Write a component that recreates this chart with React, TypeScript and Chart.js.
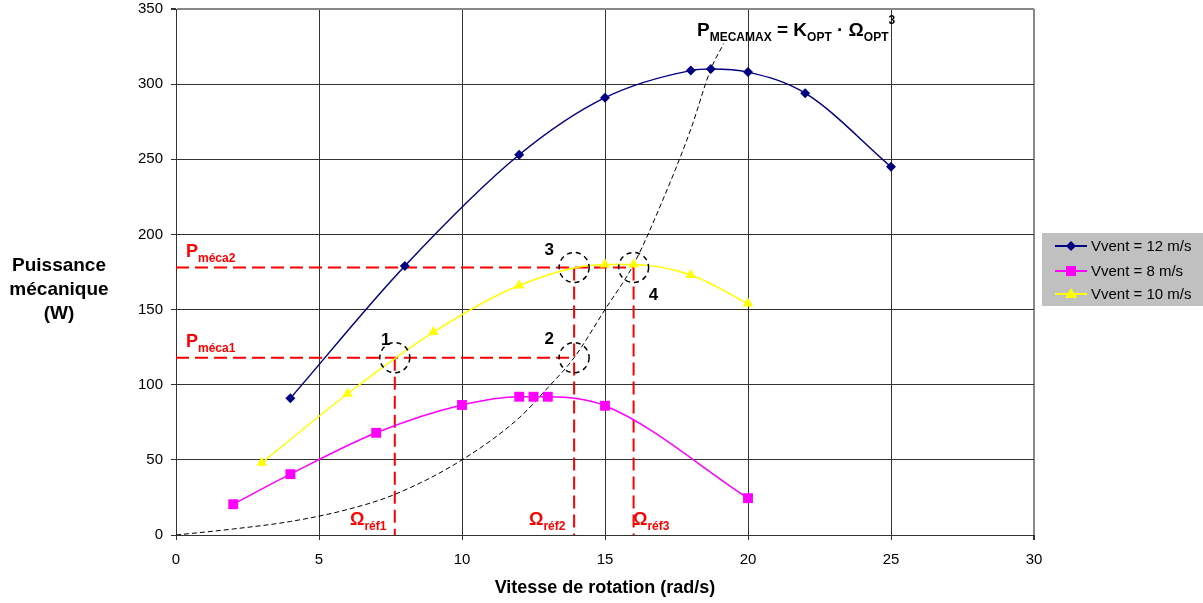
import React, { useEffect, useRef } from 'react';
import { Chart, registerables } from 'chart.js';

Chart.register(...registerables);

const FONT = '"Liberation Sans", Arial, Helvetica, sans-serif';

// Vvent = 12 m/s
const speed12X = [4, 8, 12, 15, 18, 18.7, 20, 22, 25];
const power12Y = [91, 179, 253, 291, 309, 310, 308, 294, 245];
// Vvent = 8 m/s
const speed8X = [2, 4, 7, 10, 12, 12.5, 13, 15, 20];
const power8Y = [20.5, 40.5, 68, 86.5, 92, 92, 92, 86, 24.5];
// Vvent = 10 m/s
const speed10X = [3, 6, 9, 12, 15, 16, 18, 20];
const power10Y = [48, 94, 135, 166, 180, 180, 173, 154];
// P_MECAMAX = K_OPT * Omega_OPT^3
const optX = [0, 2, 4, 6, 7.65, 10, 12, 13, 13.92, 15, 16, 17, 18, 18.7, 19.15];
const optY = [0, 4, 9, 17, 27, 50, 78, 98, 118, 150, 180, 222, 270, 310, 327];
// operating points
const pMeca = [118, 178];
const omegaRef = [7.65, 13.92, 16.0];

const legendLabels = ['Vvent = 12 m/s', 'Vvent = 8 m/s', 'Vvent = 10 m/s'];
const xTitle = 'Vitesse de rotation (rad/s)';
const yTitle = ['Puissance', 'mécanique', '(W)'];

const BLUE = '#000080';
const PINK = '#ff00ff';
const YELLOW = '#ffff00';
const RED = '#ff0000';

const pts = (xs: number[], ys: number[]) => xs.map((x, i) => ({ x, y: ys[i] }));

function rich(ctx: CanvasRenderingContext2D, x: number, y: number, parts: [string, number, number][]) {
  let cx = x;
  for (const [t, size, dy] of parts) {
    ctx.font = `bold ${size}px ${FONT}`;
    ctx.fillText(t, cx, y + dy);
    cx += ctx.measureText(t).width;
  }
}

function marker(ctx: CanvasRenderingContext2D, kind: string, x: number, y: number, color: string) {
  ctx.save();
  ctx.fillStyle = color;
  ctx.beginPath();
  if (kind === 'diamond') {
    ctx.moveTo(x, y - 5); ctx.lineTo(x + 5, y); ctx.lineTo(x, y + 5); ctx.lineTo(x - 5, y);
  } else if (kind === 'square') {
    ctx.rect(x - 5, y - 5, 10, 10);
  } else {
    ctx.moveTo(x, y - 6); ctx.lineTo(x + 6, y + 4); ctx.lineTo(x - 6, y + 4);
  }
  ctx.closePath();
  ctx.fill();
  ctx.restore();
}

const annotPlugin = {
  id: 'annot',
  afterDatasetsDraw(chart: any) {
    const { ctx } = chart;
    const xs = chart.scales.x;
    const ys = chart.scales.y;
    const circles: [number, number, string, number, number][] = [
      [omegaRef[0], pMeca[0], '1', -9, -17],
      [omegaRef[1], pMeca[0], '2', -25, -18],
      [omegaRef[1], pMeca[1], '3', -25, -17],
      [omegaRef[2], pMeca[1], '4', 20, 28],
    ];
    ctx.save();
    for (const [cx, cy, lab, dx, dy] of circles) {
      const px = xs.getPixelForValue(cx);
      const py = ys.getPixelForValue(cy);
      ctx.beginPath();
      ctx.setLineDash([5, 4]);
      ctx.strokeStyle = '#000';
      ctx.lineWidth = 1.5;
      ctx.arc(px, py, 15, 0, Math.PI * 2);
      ctx.stroke();
      ctx.setLineDash([]);
      ctx.fillStyle = '#000';
      ctx.font = `bold 17px ${FONT}`;
      ctx.textAlign = 'center';
      ctx.textBaseline = 'middle';
      ctx.fillText(lab, px + dx, py + dy);
    }
    ctx.textAlign = 'left';
    ctx.textBaseline = 'alphabetic';
    ctx.fillStyle = RED;
    rich(ctx, 186, 257, [['P', 18, 0], ['méca2', 12, 5]]);
    rich(ctx, 186, 347, [['P', 18, 0], ['méca1', 12, 5]]);
    rich(ctx, 350, 525, [['Ω', 18, 0], ['réf1', 12, 5]]);
    rich(ctx, 529, 525, [['Ω', 18, 0], ['réf2', 12, 5]]);
    rich(ctx, 633, 525, [['Ω', 18, 0], ['réf3', 12, 5]]);
    ctx.fillStyle = '#000';
    rich(ctx, 697, 36, [['P', 19, 0], ['MECAMAX', 12, 5], [' = K', 19, 0], ['OPT', 12, 5], [' · Ω', 19, 0], ['OPT', 12, 5], ['3', 12, -12]]);
    ctx.restore();
  },
  afterDraw(chart: any) {
    const { ctx } = chart;
    ctx.save();
    // legend
    ctx.fillStyle = '#c0c0c0';
    ctx.fillRect(1042, 233, 161, 73);
    const cols = [BLUE, PINK, YELLOW];
    const kinds = ['diamond', 'square', 'triangle'];
    const rows = [246, 271, 294];
    for (let i = 0; i < 3; i++) {
      ctx.strokeStyle = cols[i];
      ctx.lineWidth = 2;
      ctx.beginPath();
      ctx.moveTo(1055, rows[i]);
      ctx.lineTo(1087, rows[i]);
      ctx.stroke();
      marker(ctx, kinds[i], 1071, rows[i], cols[i]);
      ctx.fillStyle = '#000';
      ctx.font = `15px ${FONT}`;
      ctx.textAlign = 'left';
      ctx.textBaseline = 'middle';
      ctx.fillText(legendLabels[i], 1091, rows[i] + 1);
    }
    // axis titles
    ctx.fillStyle = '#000';
    ctx.textAlign = 'center';
    ctx.textBaseline = 'middle';
    ctx.font = `bold 19px ${FONT}`;
    yTitle.forEach((t, i) => ctx.fillText(t, 59, 266 + i * 24));
    ctx.font = `bold 18px ${FONT}`;
    ctx.fillText(xTitle, 605, 588);
    ctx.restore();
  },
};

export default function App() {
  const ref = useRef<HTMLCanvasElement>(null);
  useEffect(() => {
    const redLine = (a: [number, number], b: [number, number]) => ({
      data: [{ x: a[0], y: a[1] }, { x: b[0], y: b[1] }],
      borderColor: RED,
      borderWidth: 2,
      borderDash: [13, 6],
      pointRadius: 0,
      tension: 0,
      order: 3,
    });
    const chart = new Chart(ref.current as HTMLCanvasElement, {
      type: 'line',
      data: {
        datasets: [
          {
            label: legendLabels[0],
            data: pts(speed12X, power12Y),
            borderColor: BLUE,
            backgroundColor: BLUE,
            borderWidth: 1.5,
            pointStyle: 'rectRot',
            pointRadius: 5,
            pointBorderWidth: 0,
            cubicInterpolationMode: 'monotone',
            order: 0,
          },
          {
            label: legendLabels[1],
            data: pts(speed8X, power8Y),
            borderColor: PINK,
            backgroundColor: PINK,
            borderWidth: 1.5,
            pointStyle: 'rect',
            pointRadius: 7,
            pointBorderWidth: 0,
            cubicInterpolationMode: 'monotone',
            order: 0,
          },
          {
            label: legendLabels[2],
            data: pts(speed10X, power10Y),
            borderColor: YELLOW,
            backgroundColor: YELLOW,
            borderWidth: 1.5,
            pointStyle: 'triangle',
            pointRadius: 6,
            pointBorderWidth: 0,
            cubicInterpolationMode: 'monotone',
            order: 0,
          },
          {
            label: 'opt',
            data: pts(optX, optY),
            borderColor: '#000',
            borderWidth: 1,
            borderDash: [5, 3],
            pointRadius: 0,
            cubicInterpolationMode: 'monotone',
            order: 1,
          },
          redLine([0, pMeca[0]], [omegaRef[1], pMeca[0]]),
          redLine([omegaRef[0], pMeca[0]], [omegaRef[0], 0]),
          redLine([0, pMeca[1]], [omegaRef[2], pMeca[1]]),
          redLine([omegaRef[1], pMeca[1]], [omegaRef[1], 0]),
          redLine([omegaRef[2], pMeca[1]], [omegaRef[2], 0]),
        ] as any,
      },
      options: {
        animation: false,
        responsive: false,
        maintainAspectRatio: false,
        layout: { padding: { top: 9, right: 169, left: 0, bottom: 0 } },
        plugins: { legend: { display: false }, tooltip: { enabled: false } },
        scales: {
          x: {
            type: 'linear',
            min: 0,
            max: 30,
            ticks: { stepSize: 5, color: '#000', font: { family: FONT, size: 15 }, padding: 11 },
            grid: {
              color: (c: any) => (c.tick && c.tick.value === 30 ? '#888' : '#333'),
              lineWidth: (c: any) => (c.tick && c.tick.value === 30 ? 2 : 1),
              tickColor: '#333',
              tickLength: 5,
            },
            border: { color: '#333', width: 1 },
            afterFit: (s: any) => { s.height = 68; s.paddingLeft = 0; s.paddingRight = 0; },
          },
          y: {
            type: 'linear',
            min: 0,
            max: 350,
            ticks: { stepSize: 50, color: '#000', font: { family: FONT, size: 15 }, padding: 8 },
            grid: {
              color: (c: any) => (c.tick && c.tick.value === 350 ? '#888' : '#333'),
              lineWidth: (c: any) => (c.tick && c.tick.value === 350 ? 2 : 1),
              tickColor: '#333',
              tickLength: 5,
            },
            border: { color: '#333', width: 1 },
            afterFit: (s: any) => { s.width = 176; s.paddingTop = 0; s.paddingBottom = 0; },
          },
        },
      } as any,
      plugins: [annotPlugin],
    });
    return () => chart.destroy();
  }, []);
  return (
    <div style={{ position: 'fixed', left: 0, top: 0, width: 1203, height: 603, background: '#fff' }}>
      <canvas ref={ref} width={1203} height={603} style={{ display: 'block' }} />
    </div>
  );
}
